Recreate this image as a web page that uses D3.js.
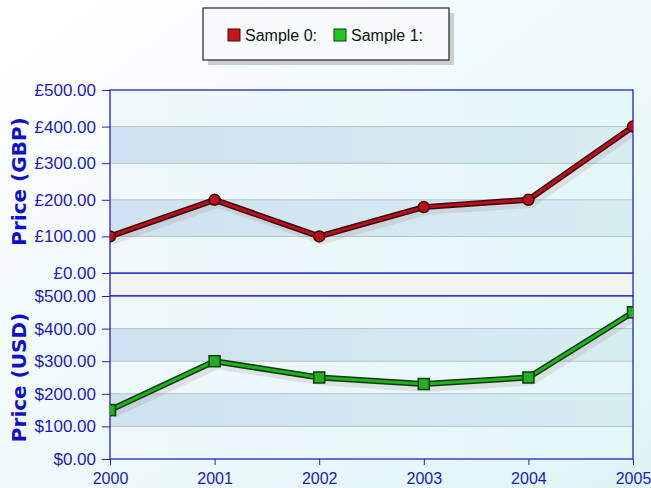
<!DOCTYPE html>
<html>
<head>
<meta charset="utf-8">
<script src="https://cdn.jsdelivr.net/npm/d3@7"></script>
<style>
body { margin: 0; }
svg { display: block; font-family: "Liberation Sans", Arial, sans-serif; }
</style>
</head>
<body>
<svg></svg>
<script>
var years = [2000, 2001, 2002, 2003, 2004, 2005]
var sample0 = [100, 200, 100, 180, 200, 400]
var sample1 = [150, 300, 250, 230, 250, 450]
var yTicks = [0, 100, 200, 300, 400, 500]
var seriesNames = ["Sample 0:", "Sample 1:"]

var screen = {width: 651, height: 488}
var plot = {left: 110, right: 633}
var topPanel = {top: 90, bottom: 273}
var botPanel = {top: 296, bottom: 459}
var axisColor = "#2424c4"
var textColor = "#1c1cb4"

var svg = d3.select("svg")
    .attr("width", screen.width)
    .attr("height", screen.height)

var defs = svg.append("defs")
var bg = defs.append("linearGradient").attr("id", "bg")
    .attr("x1", 0).attr("y1", 0).attr("x2", 1).attr("y2", 1)
bg.append("stop").attr("offset", "0%").attr("stop-color", "#ffffff")
bg.append("stop").attr("offset", "100%").attr("stop-color", "#dff4f6")

var band = defs.append("linearGradient").attr("id", "band")
    .attr("x1", 0).attr("y1", 0).attr("x2", 1).attr("y2", 0)
band.append("stop").attr("offset", "0%").attr("stop-color", "#cfe2ef")
band.append("stop").attr("offset", "100%").attr("stop-color", "#d6edf2")

var light = defs.append("linearGradient").attr("id", "light")
    .attr("x1", 0).attr("y1", 0).attr("x2", 1).attr("y2", 0)
light.append("stop").attr("offset", "0%").attr("stop-color", "#eef8fb")
light.append("stop").attr("offset", "100%").attr("stop-color", "#e4f6f7")

svg.append("rect")
    .attr("width", screen.width)
    .attr("height", screen.height)
    .attr("fill", "url(#bg)")

var xScale = d3.scalePoint()
    .domain(years)
    .range([plot.left, plot.right])

var drawPanel = function(panel, values, fmt, title, color, dark, marker)
{
    var yScale = d3.scaleLinear()
    .domain([0, 500])
    .range([panel.bottom, panel.top])

    var g = svg.append("g")

    g.append("rect")
    .attr("x", plot.left)
    .attr("y", panel.top)
    .attr("width", plot.right - plot.left)
    .attr("height", panel.bottom - panel.top)
    .attr("fill", "url(#light)")

    g.selectAll(".band")
    .data([100, 300])
    .enter()
    .append("rect")
    .attr("x", plot.left)
    .attr("y", function(d) { return yScale(d + 100) })
    .attr("width", plot.right - plot.left)
    .attr("height", function(d) { return yScale(d) - yScale(d + 100) })
    .attr("fill", "url(#band)")

    g.selectAll(".grid")
    .data([100, 200, 300, 400])
    .enter()
    .append("line")
    .attr("x1", plot.left)
    .attr("x2", plot.right)
    .attr("y1", function(d) { return yScale(d) })
    .attr("y2", function(d) { return yScale(d) })
    .attr("stroke", "#b4c4cc")
    .attr("stroke-width", 1)

    var yAxis = d3.axisLeft(yScale)
    .tickValues(yTicks)
    .tickFormat(fmt)
    .tickSize(8)
    .tickPadding(6)

    var ax = g.append("g")
    .attr("transform", "translate(" + plot.left + ",0)")
    .call(yAxis)
    ax.select(".domain").remove()
    ax.selectAll("line").attr("stroke", axisColor)
    ax.selectAll("text")
    .attr("fill", textColor)
    .style("font-size", "17px")

    g.append("rect")
    .attr("x", plot.left)
    .attr("y", panel.top)
    .attr("width", plot.right - plot.left)
    .attr("height", panel.bottom - panel.top)
    .attr("fill", "none")
    .attr("stroke", axisColor)
    .attr("stroke-width", 1.3)

    g.append("text")
    .attr("transform", "translate(26," + ((panel.top + panel.bottom) / 2) + ") rotate(-90)")
    .attr("text-anchor", "middle")
    .attr("fill", "#1010c4")
    .style("font-family", "'DejaVu Sans', Verdana, sans-serif")
    .style("font-size", "20px")
    .style("font-weight", "bold")
    .text(title)

    var pts = years.map(function(y, i) { return [xScale(y), yScale(values[i])] })
    var line = d3.line()

    var clip = "clip" + panel.top
    defs.append("clipPath").attr("id", clip)
    .append("rect")
    .attr("x", plot.left).attr("y", panel.top - 10)
    .attr("width", plot.right - plot.left).attr("height", panel.bottom - panel.top + 10)

    var lg = g.append("g").attr("clip-path", "url(#" + clip + ")")

    lg.append("path")
    .attr("d", line(pts.map(function(p) { return [p[0] + 3, p[1] + 5] })))
    .attr("fill", "none")
    .attr("stroke", "#804050")
    .attr("stroke-opacity", 0.12)
    .attr("stroke-width", 6)

    lg.append("path")
    .attr("d", line(pts))
    .attr("fill", "none")
    .attr("stroke", dark)
    .attr("stroke-width", 6)
    .attr("stroke-linejoin", "round")

    lg.append("path")
    .attr("d", line(pts))
    .attr("fill", "none")
    .attr("stroke", color)
    .attr("stroke-width", 3)
    .attr("stroke-linejoin", "round")

    if (marker == "circle")
    {
        lg.selectAll(".m")
        .data(pts)
        .enter()
        .append("circle")
        .attr("cx", function(p) { return p[0] })
        .attr("cy", function(p) { return p[1] })
        .attr("r", 5.5)
        .attr("fill", color)
        .attr("stroke", dark)
        .attr("stroke-width", 1.5)
    }
    else
    {
        lg.selectAll(".m")
        .data(pts)
        .enter()
        .append("rect")
        .attr("x", function(p) { return p[0] - 5.5 })
        .attr("y", function(p) { return p[1] - 5.5 })
        .attr("width", 11)
        .attr("height", 11)
        .attr("fill", color)
        .attr("stroke", dark)
        .attr("stroke-width", 1.5)
    }
    return yScale
}

// gap between the two panels
svg.append("rect")
    .attr("x", plot.left)
    .attr("y", topPanel.bottom)
    .attr("width", plot.right - plot.left)
    .attr("height", botPanel.top - topPanel.bottom)
    .attr("fill", "#f3f4f0")
    .attr("stroke", axisColor)
    .attr("stroke-width", 1.3)

drawPanel(topPanel, sample0, function(d) { return "£" + d3.format(".2f")(d) },
    "Price (GBP)", "#b8101c", "#3e0808", "circle")
drawPanel(botPanel, sample1, function(d) { return "$" + d3.format(".2f")(d) },
    "Price (USD)", "#22b022", "#0b3d0b", "square")

var xAxis = d3.axisBottom(xScale)
    .tickSize(6)
    .tickPadding(8)
    .tickFormat(d3.format("d"))

var xa = svg.append("g")
    .attr("transform", "translate(0," + botPanel.bottom + ")")
    .call(xAxis)
xa.select(".domain").remove()
xa.selectAll("line").attr("stroke", axisColor)
xa.selectAll("text")
    .attr("fill", textColor)
    .style("font-size", "16px")

// legend
var legend = svg.append("g").attr("transform", "translate(203,8)")
legend.append("rect")
    .attr("x", 5).attr("y", 5)
    .attr("width", 246).attr("height", 52)
    .attr("fill", "#c8d0d2")
legend.append("rect")
    .attr("width", 246).attr("height", 52)
    .attr("fill", "#f6fbfc")
    .attr("stroke", "#222")
    .attr("stroke-width", 1.2)

var legendColors = [["#c8141c", "#4a0a0a"], ["#22c822", "#0b3d0b"]]
var items = legend.selectAll(".item")
    .data(seriesNames)
    .enter()
    .append("g")
    .attr("transform", function(d, i) { return "translate(" + (25 + i * 106) + ",21)" })
items.append("rect")
    .attr("width", 12).attr("height", 12)
    .attr("fill", function(d, i) { return legendColors[i][0] })
    .attr("stroke", function(d, i) { return legendColors[i][1] })
items.append("text")
    .attr("x", 17).attr("y", 12)
    .attr("fill", "#111")
    .style("font-size", "16px")
    .text(function(d) { return d })
</script>
</body>
</html>
